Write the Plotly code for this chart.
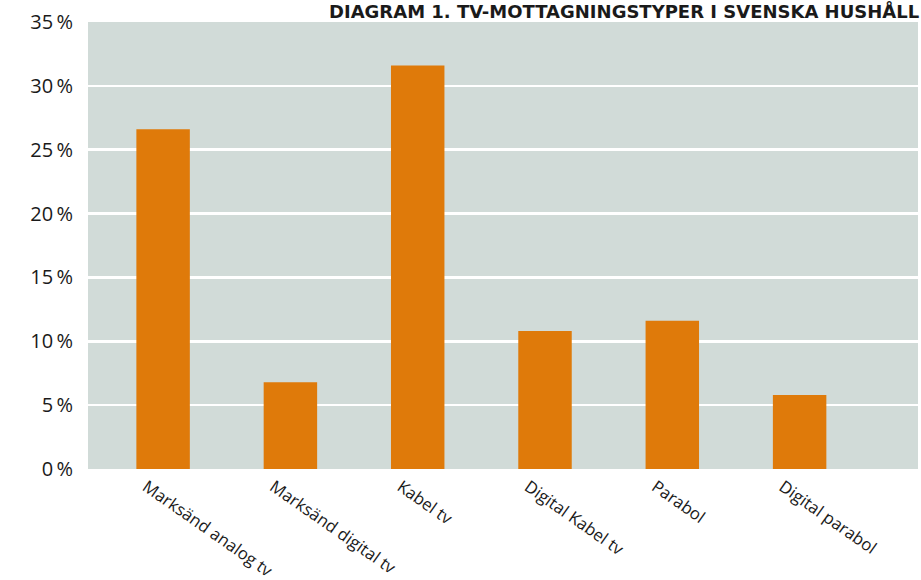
import plotly.graph_objects as go

categories = ["Marksänd analog tv", "Marksänd digital tv", "Kabel tv",
              "Digital Kabel tv", "Parabol", "Digital parabol"]
values = [26.6, 6.8, 31.6, 10.8, 11.6, 5.8]
tick_vals = [0, 5, 10, 15, 20, 25, 30, 35]
tick_text = ["0\u2009%", "5\u2009%", "10\u2009%", "15\u2009%", "20\u2009%",
             "25\u2009%", "30\u2009%", "35\u2009%"]
title_text = "DIAGRAM 1. TV-MOTTAGNINGSTYPER I SVENSKA HUSHÅLL"

font_family = "Open Sans"

fig = go.Figure()
fig.add_trace(go.Bar(
    x=list(range(len(categories))),
    y=values,
    width=0.42,
    marker=dict(color="#DF7A0A", line=dict(width=0)),
    hoverinfo="skip",
))

fig.update_layout(
    width=921, height=580,
    margin=dict(l=88, r=3, t=22, b=111, autoexpand=False),
    paper_bgcolor="white",
    plot_bgcolor="#D1DBD8",
    showlegend=False,
    font=dict(family=font_family, color="#1a1a1a"),
    xaxis=dict(
        range=[-0.59, 5.93],
        tickmode="array",
        tickvals=list(range(len(categories))),
        ticktext=categories,
        tickangle=35,
        tickfont=dict(size=16.8, family=font_family, color="#1a1a1a"),
        showgrid=False, zeroline=False, showline=False, ticks="",
        ticklabelshift=-17,
        ticklabelstandoff=4,
        automargin=False,
        fixedrange=True,
    ),
    yaxis=dict(
        range=[0, 35],
        tickmode="array",
        tickvals=tick_vals,
        ticktext=tick_text,
        tickfont=dict(size=20, family=font_family, color="#1a1a1a"),
        showgrid=True, gridcolor="white", gridwidth=2.5,
        zeroline=False, showline=False, ticks="",
        ticklabelstandoff=14,
        automargin=False,
        fixedrange=True,
    ),
    annotations=[dict(
        text="<b>" + title_text + "</b>",
        xref="paper", yref="paper", x=1, y=1,
        xanchor="right", yanchor="top",
        xshift=2, yshift=23, borderpad=0,
        showarrow=False,
        font=dict(size=18, family="DejaVu Sans", color="#1a1a1a"),
    )],
)

fig.write_html(
    "out.html",
    config={"displayModeBar": False, "staticPlot": True},
    post_script="document.body.style.margin='0';document.body.style.overflow='hidden';",
)
